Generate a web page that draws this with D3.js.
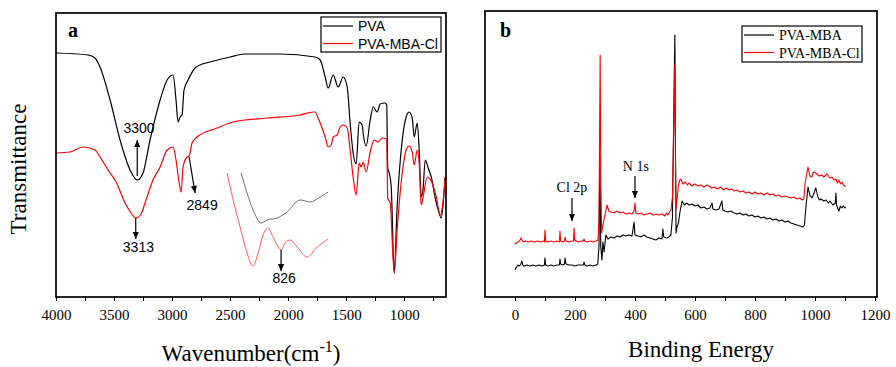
<!DOCTYPE html>
<html>
<head>
    <meta charset="utf-8">
    <script src="https://cdn.jsdelivr.net/npm/d3@7/dist/d3.min.js"></script>
</head>
<body style="margin:0;background:#fff;">
    <style type="text/css">
        .frame {
            fill: none;
            stroke: #000;
            stroke-width: 1.7;
        }
        .axis path {
            display: none;
        }
        .axis line {
            stroke: #000;
            stroke-width: 1.3;
            shape-rendering: crispEdges;
        }
        .curve {
            fill: none;
            stroke-linejoin: round;
        }
    </style>
    <svg id="chart" width="896" height="367"></svg>
    <script>
        // ---- panel a: FTIR (wavenumber, transmittance a.u.) ----
        var ftirPVA = [
            [4000, 244], [3724, 242], [3664, 239], [3621, 230], [3534, 197], [3448, 157], [3362, 127],
            [3300, 117], [3250, 124], [3190, 157], [3103, 197], [3043, 217], [2991, 222], [2966, 197],
            [2948, 175], [2931, 180], [2914, 182], [2897, 207], [2862, 217], [2802, 229], [2759, 232],
            [2672, 235], [2500, 240], [2371, 243], [2069, 243], [1767, 240], [1724, 237], [1681, 220],
            [1655, 209], [1612, 222], [1569, 210], [1526, 220], [1491, 210], [1466, 174], [1440, 144],
            [1414, 133], [1388, 175], [1362, 172], [1354, 164], [1328, 151], [1293, 177], [1267, 190],
            [1233, 185], [1207, 193], [1164, 194], [1151, 192], [1142, 129], [1129, 124], [1112, 110],
            [1086, 24], [1061, 90], [1017, 157], [983, 180], [957, 185], [931, 179], [914, 160],
            [888, 174], [871, 147], [854, 100], [837, 109], [819, 137], [793, 129], [767, 120],
            [733, 99], [707, 87], [681, 79], [664, 94], [647, 120]
        ];
        var ftirCl = [
            [4000, 144], [3879, 145], [3767, 150], [3664, 147], [3621, 140], [3534, 124], [3491, 117],
            [3405, 94], [3353, 84], [3313, 79], [3267, 83], [3233, 94], [3164, 117], [3103, 130],
            [3043, 147], [2991, 150], [2966, 137], [2940, 115], [2922, 105], [2905, 130], [2871, 140],
            [2853, 141], [2828, 154], [2785, 160], [2612, 169], [2474, 175], [2181, 179], [1897, 182],
            [1785, 185], [1767, 185], [1742, 179], [1707, 169], [1681, 160], [1655, 150], [1629, 152],
            [1612, 160], [1578, 162], [1552, 170], [1526, 172], [1491, 169], [1466, 147], [1440, 120],
            [1414, 102], [1388, 134], [1371, 130], [1354, 135], [1328, 125], [1293, 145], [1259, 157],
            [1224, 155], [1190, 159], [1151, 158], [1142, 99], [1121, 94], [1086, 24], [1061, 67],
            [1017, 124], [983, 147], [957, 151], [931, 145], [914, 132], [888, 147], [871, 134],
            [854, 92], [837, 100], [802, 120], [759, 114], [724, 100], [690, 82], [664, 97], [647, 120]
        ];
        // inset (enlarged region) drawn inside panel a
        var insetPVA = [
            [2405, 124], [2354, 104], [2302, 87], [2233, 74], [2181, 77], [2095, 79], [2009, 85],
            [1897, 97], [1810, 95], [1724, 100], [1655, 105]
        ];
        var insetCl = [
            [2526, 124], [2474, 97], [2414, 70], [2354, 44], [2302, 31], [2259, 44], [2216, 62],
            [2173, 69], [2130, 60], [2061, 47], [2026, 54], [1983, 57], [1922, 50], [1836, 40],
            [1750, 50], [1655, 58]
        ];
        var ftirTicks = [4000, 3500, 3000, 2500, 2000, 1500, 1000];
        var ftirMinor = [3750, 3250, 2750, 2250, 1750, 1250, 750];
        var ftirLegend = ["PVA", "PVA-MBA-Cl"];

        // ---- panel b: XPS (binding energy, counts a.u.) ----
        var xpsMBA = [
            [0, 27], [5, 30], [10, 32], [15, 31], [20, 33], [23, 36], [26, 32], [30, 31], [40, 32], [50, 31],
            [60, 32], [70, 31], [80, 32], [90, 31], [98, 32], [100, 39], [102, 32], [110, 31], [120, 32],
            [130, 31], [140, 32], [148, 32], [150, 38], [152, 33], [160, 32], [165, 33], [167, 39], [170, 33],
            [180, 32], [190, 32], [200, 31], [210, 32], [220, 32], [228, 32], [230, 35], [233, 32], [240, 31],
            [250, 32], [260, 31], [270, 32], [276, 33], [280, 50], [283, 140], [286, 50], [290, 37],
            [293, 55], [297, 45], [303, 62], [310, 58], [320, 60], [330, 59], [340, 61], [350, 60],
            [360, 62], [370, 61], [380, 62], [390, 61], [397, 75], [400, 62], [410, 61], [420, 60],
            [430, 62], [440, 60], [450, 59], [460, 58], [470, 57], [480, 59], [490, 58], [493, 68],
            [496, 60], [505, 59], [513, 60], [520, 62], [525, 80], [530, 200], [533, 262], [535, 150],
            [537, 64], [540, 70], [545, 74], [550, 85], [557, 96], [565, 92], [572, 94], [580, 92],
            [590, 93], [600, 91], [610, 92], [620, 89], [630, 90], [640, 88], [650, 89], [657, 94],
            [660, 88], [670, 87], [680, 88], [690, 96], [693, 87], [700, 86], [710, 85], [720, 86],
            [730, 84], [740, 83], [750, 84], [760, 82], [770, 83], [780, 81], [790, 82], [800, 80],
            [810, 81], [820, 79], [830, 80], [840, 78], [850, 79], [860, 77], [870, 78], [880, 76],
            [890, 77], [900, 75], [910, 76], [920, 74], [930, 73], [940, 72], [950, 71], [960, 70],
            [965, 72], [970, 90], [977, 110], [983, 102], [990, 99], [997, 104], [1003, 109], [1010, 100],
            [1015, 97], [1020, 98], [1030, 96], [1037, 97], [1045, 94], [1050, 96], [1060, 92], [1068, 94],
            [1070, 104], [1072, 92], [1077, 88], [1080, 86], [1085, 91], [1090, 89], [1095, 91],
            [1100, 89], [1103, 90]
        ];
        var xpsCl = [
            [0, 53], [5, 54], [10, 55], [15, 56], [20, 59], [23, 57], [28, 55], [35, 56], [45, 55], [55, 56],
            [65, 55], [75, 56], [85, 55], [95, 56], [98, 55], [100, 67], [102, 56], [110, 55], [120, 56],
            [130, 55], [140, 56], [148, 55], [150, 66], [152, 56], [160, 55], [165, 56], [167, 60], [170, 56],
            [180, 55], [190, 56], [195, 56], [197, 69], [199, 57], [210, 55], [220, 56], [228, 56], [230, 58],
            [233, 56], [240, 55], [250, 56], [260, 55], [270, 56], [277, 57], [280, 80], [284, 242],
            [286, 120], [289, 64], [292, 70], [300, 82], [307, 92], [313, 86], [320, 85], [330, 84],
            [340, 86], [350, 84], [360, 85], [370, 83], [380, 84], [390, 83], [397, 86], [400, 94],
            [403, 84], [410, 83], [420, 84], [430, 82], [440, 83], [450, 84], [460, 82], [470, 83],
            [480, 82], [490, 83], [500, 81], [505, 84], [510, 82], [515, 85], [520, 87], [525, 100],
            [530, 180], [533, 232], [535, 140], [537, 87], [541, 100], [545, 112], [550, 117], [553, 118],
            [560, 113], [567, 115], [575, 112], [580, 114], [590, 111], [600, 113], [610, 111], [620, 112],
            [630, 110], [640, 112], [647, 111], [655, 109], [665, 110], [675, 108], [685, 110], [695, 107],
            [705, 109], [715, 107], [723, 108], [730, 106], [740, 107], [750, 105], [760, 106], [770, 104],
            [780, 105], [790, 103], [800, 105], [810, 103], [820, 104], [830, 102], [840, 104], [850, 102],
            [860, 103], [870, 101], [880, 102], [890, 100], [900, 101], [910, 100], [920, 99], [930, 100],
            [940, 98], [950, 99], [957, 97], [963, 98], [968, 115], [972, 122], [977, 130], [983, 121],
            [990, 120], [995, 125], [1003, 124], [1010, 122], [1015, 121], [1023, 122], [1030, 120],
            [1040, 123], [1050, 119], [1057, 120], [1063, 117], [1070, 118], [1075, 114], [1080, 117],
            [1085, 113], [1090, 115], [1095, 112], [1100, 111], [1103, 110]
        ];
        var xpsTicks = [0, 200, 400, 600, 800, 1000, 1200];
        var xpsMinor = [100, 300, 500, 700, 900, 1100];
        var xpsLegend = ["PVA-MBA", "PVA-MBA-Cl"];

        var SERIF = "'Liberation Serif', 'Times New Roman', serif";
        var SANS = "'Liberation Sans', Arial, sans-serif";

        var svg = d3.select("#chart");

        var defs = svg.append("defs");
        defs.append("marker")
            .attr("id", "head")
            .attr("viewBox", "0 0 8 8")
            .attr("refX", 8).attr("refY", 4)
            .attr("markerWidth", 8).attr("markerHeight", 7)
            .attr("markerUnits", "userSpaceOnUse")
            .attr("orient", "auto")
            .append("path").attr("d", "M0,0.5 L8,4 L0,7.5 Z").attr("fill", "#000");

        function panel(id, box, xDomain, yDomain) {
            defs.append("clipPath").attr("id", "clip-" + id)
                .append("rect")
                .attr("x", box.left).attr("y", box.top)
                .attr("width", box.right - box.left).attr("height", box.bottom - box.top);
            var x = d3.scaleLinear().domain(xDomain).range([box.left, box.right]);
            var y = d3.scaleLinear().domain(yDomain).range([box.bottom, box.top]);
            var g = svg.append("g");
            var plot = g.append("g").attr("clip-path", "url(#clip-" + id + ")");
            return { x: x, y: y, g: g, plot: plot, box: box };
        }

        function axes(p, major, minor) {
            p.g.append("g")
                .attr("class", "axis")
                .attr("transform", "translate(0," + p.box.bottom + ")")
                .call(d3.axisBottom(p.x).tickValues(major).tickSizeInner(4).tickSizeOuter(0).tickPadding(8)
                    .tickFormat(d3.format("d")))
                .selectAll("text")
                .style("font-family", SERIF)
                .style("font-size", "15px")
                .attr("fill", "#000");
            p.g.append("g")
                .attr("class", "axis")
                .attr("transform", "translate(0," + p.box.bottom + ")")
                .call(d3.axisBottom(p.x).tickValues(minor).tickSizeInner(4).tickSizeOuter(0).tickFormat(""));
            p.g.append("rect")
                .attr("class", "frame")
                .attr("x", p.box.left).attr("y", p.box.top)
                .attr("width", p.box.right - p.box.left)
                .attr("height", p.box.bottom - p.box.top);
        }

        function curve(p, data, color, width, smooth) {
            var line = d3.line()
                .x(function(d) { return p.x(d[0]); })
                .y(function(d) { return p.y(d[1]); })
                .curve(smooth ? d3.curveMonotoneX : d3.curveLinear);
            p.plot.append("path")
                .datum(data)
                .attr("class", "curve")
                .attr("stroke", color)
                .attr("stroke-width", width)
                .attr("d", line);
        }

        function arrow(p, x1, y1, x2, y2) {
            p.g.append("line")
                .attr("x1", p.x(x1)).attr("y1", p.y(y1))
                .attr("x2", p.x(x2)).attr("y2", p.y(y2))
                .attr("stroke", "#000").attr("stroke-width", 1.2)
                .attr("marker-end", "url(#head)");
        }

        function note(p, font, text, x, y) {
            p.g.append("text")
                .attr("x", p.x(x)).attr("y", p.y(y))
                .attr("text-anchor", "middle")
                .style("font-family", font)
                .style("font-size", "14px")
                .text(text);
        }

        function legend(p, names, colors, lx, ly, w, h, font) {
            var lg = p.g.append("g").attr("transform", "translate(" + lx + "," + ly + ")");
            lg.append("rect").attr("width", w).attr("height", h)
                .attr("fill", "#fff").attr("stroke", "#000").attr("stroke-width", 1.2);
            names.forEach(function(n, i) {
                var yy = 9 + i * 17.5;
                lg.append("line").attr("x1", 2).attr("x2", 32).attr("y1", yy).attr("y2", yy)
                    .attr("stroke", colors[i]).attr("stroke-width", 1.2);
                lg.append("text").attr("x", 37).attr("y", yy + 5)
                    .style("font-family", font).style("font-size", "14px")
                    .text(n);
            });
        }

        // ---------- panel a ----------
        var pa = panel("a", { left: 56, right: 446, top: 13, bottom: 297 }, [4000, 640], [0, 284]);
        curve(pa, ftirPVA, "#000", 1.2, true);
        curve(pa, ftirCl, "#ff0000", 1.2, true);
        curve(pa, insetPVA, "#707070", 1, true);
        curve(pa, insetCl, "#ff5a5a", 1, true);
        axes(pa, ftirTicks, ftirMinor);

        arrow(pa, 3300, 121, 3300, 157);
        note(pa, SANS, "3300", 3285, 164);
        arrow(pa, 3313, 79, 3313, 58);
        note(pa, SANS, "3313", 3290, 45);
        arrow(pa, 2853, 140, 2802, 104);
        note(pa, SANS, "2849", 2741, 87);
        arrow(pa, 2061, 47, 2061, 26);
        note(pa, SANS, "826", 2035, 14);

        pa.g.append("text").attr("x", 68).attr("y", 37)
            .style("font-family", SERIF).style("font-weight", "bold").style("font-size", "20px")
            .text("a");
        legend(pa, ftirLegend, ["#000", "#ff0000"], 321, 17, 120, 35, SANS);

        var wn = svg.append("text")
            .attr("x", 251).attr("y", 361)
            .attr("text-anchor", "middle")
            .style("font-family", SERIF).style("font-size", "23px");
        wn.append("tspan").text("Wavenumber(cm");
        wn.append("tspan").attr("dy", -9).style("font-size", "16px").text("-1");
        wn.append("tspan").attr("dy", 9).text(")");

        svg.append("text")
            .attr("transform", "translate(26,169) rotate(-90)")
            .attr("text-anchor", "middle")
            .style("font-family", SERIF).style("font-size", "23px")
            .text("Transmittance");

        // ---------- panel b ----------
        var pb = panel("b", { left: 485, right: 877, top: 11, bottom: 297 }, [-100, 1207], [0, 286]);
        curve(pb, xpsMBA, "#000", 1.1, false);
        curve(pb, xpsCl, "#ff0000", 1.1, false);
        axes(pb, xpsTicks, xpsMinor);

        note(pb, SERIF, "Cl 2p", 190, 105);
        arrow(pb, 190, 99, 190, 76);
        note(pb, SERIF, "N 1s", 403, 126);
        arrow(pb, 400, 121, 400, 99);

        pb.g.append("text").attr("x", 500).attr("y", 37)
            .style("font-family", SERIF).style("font-weight", "bold").style("font-size", "20px")
            .text("b");
        legend(pb, xpsLegend, ["#000", "#ff0000"], 742, 26, 120, 36, SERIF);

        svg.append("text")
            .attr("x", 701).attr("y", 357)
            .attr("text-anchor", "middle")
            .style("font-family", SERIF).style("font-size", "23px")
            .text("Binding Energy");
    </script>
</body>
</html>
